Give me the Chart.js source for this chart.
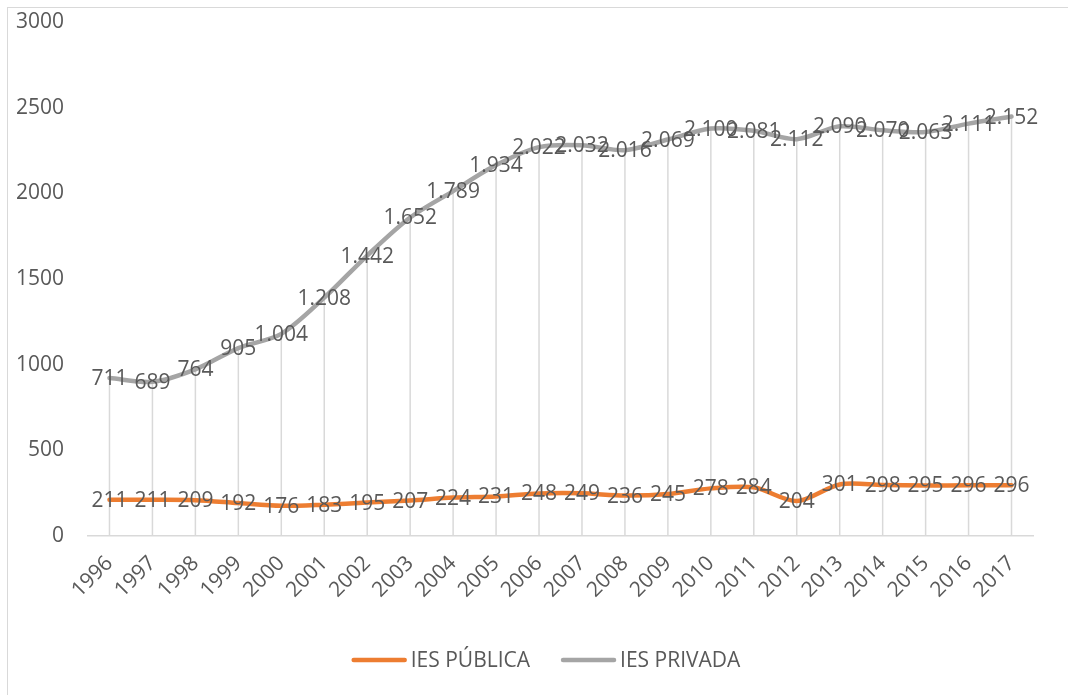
<!DOCTYPE html>
<html>
<head>
<meta charset="utf-8">
<script src="https://cdn.jsdelivr.net/npm/chart.js@4/dist/chart.umd.min.js"></script>
<style>
  html, body { margin: 0; padding: 0; background: #fff; overflow: hidden; }
  #frame { position: absolute; left: 7px; top: 7px; width: 1100px; height: 720px; border: 1px solid #d9d9d9; }
  #chart { position: absolute; left: 0; top: 0; }
</style>
</head>
<body>
<div id="frame"></div>
<canvas id="chart" width="1068" height="695"></canvas>
<script>
console.log('ies chart')

const years = ['1996', '1997', '1998', '1999', '2000', '2001', '2002', '2003', '2004', '2005', '2006',
               '2007', '2008', '2009', '2010', '2011', '2012', '2013', '2014', '2015', '2016', '2017'];
const iesPublica = [211, 211, 209, 192, 176, 183, 195, 207, 224, 231, 248,
                    249, 236, 245, 278, 284, 204, 301, 298, 295, 296, 296];
const iesPrivada = [711, 689, 764, 905, 1004, 1208, 1442, 1652, 1789, 1934, 2022,
                    2032, 2016, 2069, 2100, 2081, 2112, 2090, 2070, 2063, 2111, 2152];
const yTicks = [0, 500, 1000, 1500, 2000, 2500, 3000];

const txtColor = '#595959';
const fontFam = '"Open Sans", "DejaVu Sans", sans-serif';

// dot as thousands separator, like the source
function fmt(v) {
    return String(v).replace(/\B(?=(\d{3})+(?!\d))/g, '.');
}

// vertical drop lines from the top series down to the axis
const dropLines = {
    id: 'dropLines',
    beforeDatasetsDraw(chart) {
        const ctx = chart.ctx;
        const top = chart.getDatasetMeta(chart.data.datasets.length - 1);
        const bottom = chart.scales.y.getPixelForValue(0);
        ctx.save();
        ctx.strokeStyle = '#d9d9d9';
        ctx.lineWidth = 1.5;
        top.data.forEach(pt => {
            ctx.beginPath();
            ctx.moveTo(pt.x, pt.y);
            ctx.lineTo(pt.x, bottom);
            ctx.stroke();
        });
        ctx.restore();
    }
};

// value labels centred on each point
const valueLabels = {
    id: 'valueLabels',
    afterDatasetsDraw(chart) {
        const ctx = chart.ctx;
        ctx.save();
        ctx.font = '21px ' + fontFam;
        ctx.fillStyle = txtColor;
        ctx.textAlign = 'center';
        ctx.textBaseline = 'middle';
        chart.data.datasets.forEach((ds, i) => {
            chart.getDatasetMeta(i).data.forEach((pt, j) => {
                ctx.fillText(fmt(ds.data[j]), pt.x, pt.y + 1);
            });
        });
        ctx.restore();
    }
};

// legend drawn by hand so the gaps match the excel one
const bottomLegend = {
    id: 'bottomLegend',
    afterDraw(chart) {
        const ctx = chart.ctx;
        const sw = 55, gap = 4, itemGap = 31, y = 660;
        ctx.save();
        ctx.font = '21px ' + fontFam;
        const items = chart.data.datasets.map(ds => ({ text: ds.label, color: ds.borderColor, w: ctx.measureText(ds.label).width }));
        let total = items.reduce((a, it) => a + sw + gap + it.w, 0) + itemGap * (items.length - 1);
        let x = 546 - total / 2;
        items.forEach(it => {
            ctx.strokeStyle = it.color;
            ctx.lineWidth = 4.5;
            ctx.lineCap = 'round';
            ctx.beginPath();
            ctx.moveTo(x + 2, y);
            ctx.lineTo(x + sw - 2, y);
            ctx.stroke();
            ctx.fillStyle = txtColor;
            ctx.textBaseline = 'middle';
            ctx.textAlign = 'left';
            ctx.fillText(it.text, x + sw + gap, y + 1);
            x += sw + gap + it.w + itemGap;
        });
        ctx.restore();
    }
};

const config = {
    type: 'line',
    data: {
        labels: years,
        datasets: [{
            label: 'IES PÚBLICA',
            data: iesPublica,
            borderColor: '#ED7D31',
            backgroundColor: '#ED7D31',
            borderWidth: 4.5,
            borderCapStyle: 'round',
            pointRadius: 0,
            tension: 0.3,
            fill: false
        }, {
            label: 'IES PRIVADA',
            data: iesPrivada,
            borderColor: '#A5A5A5',
            backgroundColor: '#A5A5A5',
            borderWidth: 4.5,
            borderCapStyle: 'round',
            pointRadius: 0,
            tension: 0.3,
            fill: false
        }]
    },
    options: {
        responsive: false,
        animation: false,
        layout: { padding: { left: 15, right: 35, top: 0, bottom: 49 } },
        plugins: {
            legend: { display: false },
            tooltip: { enabled: false }
        },
        scales: {
            x: {
                offset: true,
                grid: { display: false, drawTicks: false, tickLength: 0 },
                border: { display: true, color: '#d9d9d9', width: 1.5 },
                afterFit: s => { s.height = 110; },
                ticks: {
                    color: txtColor,
                    font: { family: fontFam, size: 21 },
                    minRotation: 45,
                    maxRotation: 45,
                    padding: 15
                }
            },
            y: {
                stacked: true,
                min: 0,
                max: 3000,
                afterBuildTicks: s => { s.ticks = yTicks.map(v => ({ value: v })); },
                afterFit: s => { s.width = 73; s.paddingTop = 22; s.paddingBottom = 0; },
                grid: { display: false, drawTicks: false, tickLength: 0 },
                border: { display: false },
                ticks: {
                    color: txtColor,
                    font: { family: fontFam, size: 21 },
                    padding: 24,
                    callback: v => String(v)
                }
            }
        }
    },
    plugins: [dropLines, valueLabels, bottomLegend]
};

const chart = new Chart('chart', config);
</script>
</body>
</html>
